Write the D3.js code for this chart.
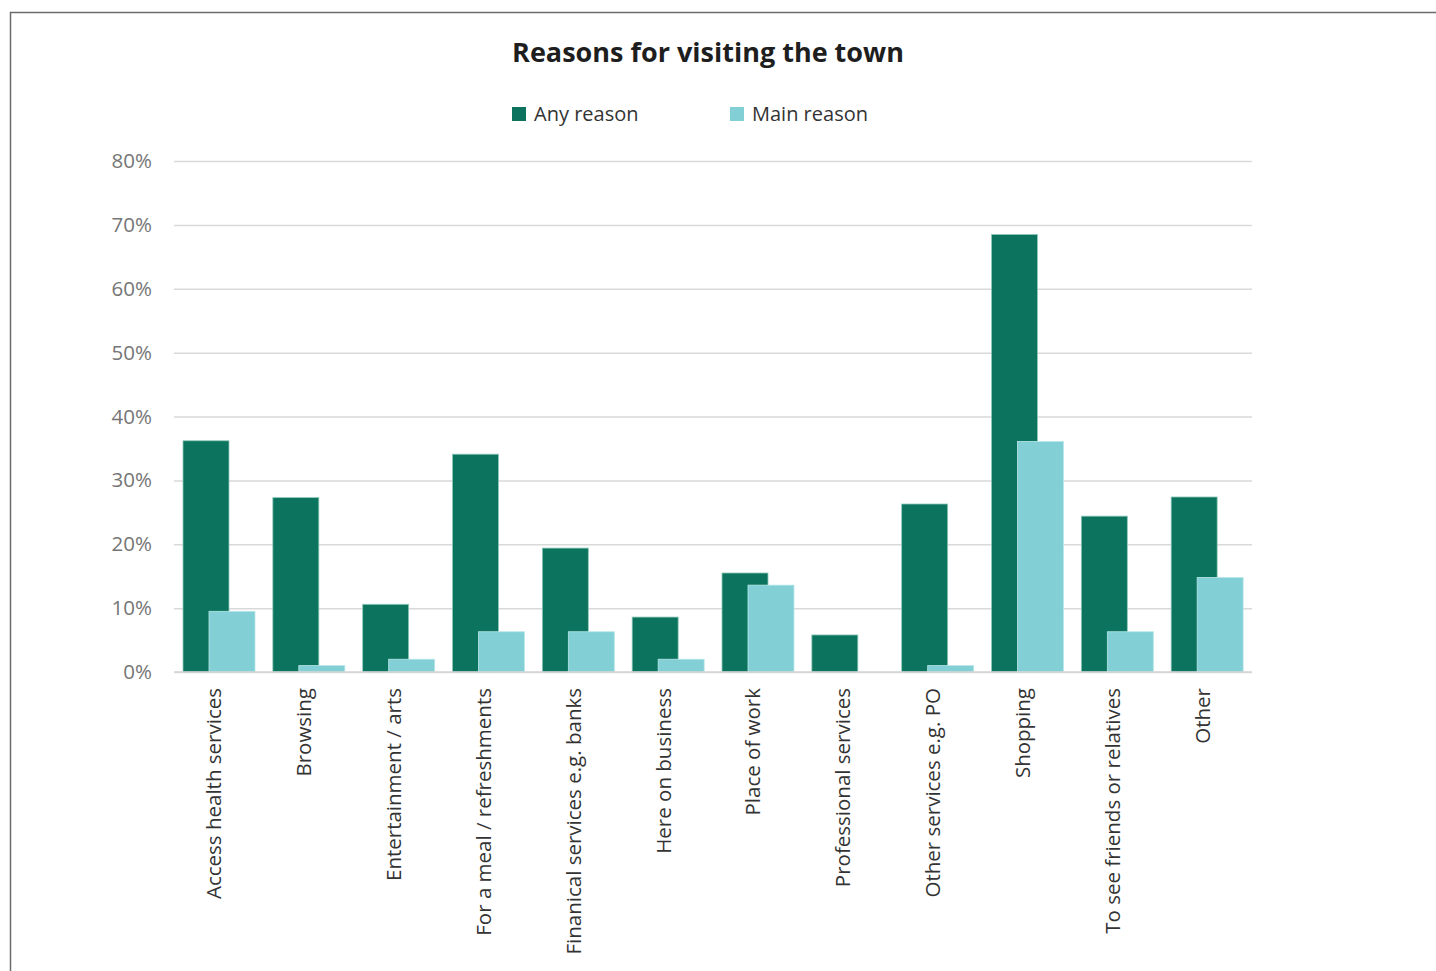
<!DOCTYPE html>
<html>
<head>
<meta charset="utf-8">
<script src="https://cdn.jsdelivr.net/npm/d3@7/dist/d3.min.js"></script>
<style>
  html, body { margin: 0; padding: 0; background: #fff; }
  svg { display: block; }
</style>
</head>
<body>
<svg id="chart" width="1436" height="971"></svg>
<script>
// Survey results: share of respondents by reason for visiting the town
const categories = [
  "Access health services",
  "Browsing",
  "Entertainment / arts",
  "For a meal / refreshments",
  "Finanical services e.g. banks",
  "Here on business",
  "Place of work",
  "Professional services",
  "Other services e.g. PO",
  "Shopping",
  "To see friends or relatives",
  "Other"
];
const anyReason  = [36.2, 27.3, 10.6, 34.1, 19.4, 8.6, 15.5, 5.8, 26.3, 68.5, 24.4, 27.4];
const mainReason = [9.5, 1.0, 2.0, 6.3, 6.3, 2.0, 13.6, 0.0, 1.0, 36.1, 6.3, 14.8];
const yTicks = [0, 10, 20, 30, 40, 50, 60, 70, 80];
const seriesNames = ["Any reason", "Main reason"];
const seriesColors = ["#0c745e", "#82d0d6"];

const svg = d3.select("#chart");
const font = "'Open Sans', 'Noto Sans', sans-serif";

// outer frame
svg.append("path")
  .attr("d", "M10.5,980 V12.5 H1440")
  .attr("fill", "none")
  .attr("stroke", "#6b6b6b")
  .attr("stroke-width", 1.5);

const plot = { left: 174, right: 1252, top: 161, bottom: 672 };

const x = d3.scaleBand()
  .domain(categories)
  .range([plot.left, plot.right])
  .paddingInner(0)
  .paddingOuter(0);

const y = d3.scaleLinear()
  .domain([0, 80])
  .range([plot.bottom, plot.top]);

// gridlines and y labels
const yAxis = d3.axisLeft(y)
  .tickValues(yTicks)
  .tickSize(-(plot.right - plot.left))
  .tickPadding(22)
  .tickFormat(d => d + "%");

const gy = svg.append("g")
  .attr("transform", `translate(${plot.left},0)`)
  .call(yAxis);
gy.select(".domain").remove();
gy.selectAll(".tick line")
  .attr("stroke", "#d9d9d9")
  .attr("stroke-width", 1.5);
gy.selectAll(".tick text")
  .attr("fill", "#767676")
  .attr("font-family", font)
  .attr("font-size", 20.5);

// bars: two overlapping columns per category
const barW = 46;
const innerOffset = 9;
const seriesShift = 26;
const seriesData = [anyReason, mainReason];
const seriesEdges = ["#8fc9bb", "#b9e6e9"];

seriesData.forEach((vals, si) => {
  svg.append("g")
    .selectAll("rect")
    .data(categories.filter((d, i) => vals[i] > 0))
    .join("rect")
    .attr("x", d => x(d) + innerOffset + si * seriesShift)
    .attr("y", d => y(vals[categories.indexOf(d)]))
    .attr("width", barW)
    .attr("height", d => y(0) - y(vals[categories.indexOf(d)]))
    .attr("fill", seriesColors[si])
    .attr("stroke", seriesEdges[si])
    .attr("stroke-width", 0.8);
});

// baseline
svg.append("line")
  .attr("x1", plot.left).attr("x2", plot.right)
  .attr("y1", y(0)).attr("y2", y(0))
  .attr("stroke", "#d4d4d4")
  .attr("stroke-width", 1.5);

// category labels, rotated
const xAxis = d3.axisBottom(x).tickSize(0).tickPadding(0);
const gx = svg.append("g")
  .attr("transform", `translate(0,${plot.bottom})`)
  .call(xAxis);
gx.select(".domain").remove();
gx.selectAll(".tick text")
  .attr("font-family", font)
  .attr("font-size", 20.5)
  .attr("fill", "#333")
  .attr("text-anchor", "end")
  .attr("dy", null)
  .attr("transform", "translate(-3,16) rotate(-90)")
  .attr("x", 0)
  .attr("y", 0)
  .attr("dominant-baseline", "middle");

// title
svg.append("text")
  .attr("x", 708)
  .attr("y", 62)
  .attr("text-anchor", "middle")
  .attr("font-family", font)
  .attr("font-weight", 700)
  .attr("font-size", 27)
  .attr("fill", "#1e1e1e")
  .text("Reasons for visiting the town");

// legend
const legendX = [512, 730];
const lg = svg.append("g");
seriesNames.forEach((name, i) => {
  lg.append("rect")
    .attr("x", legendX[i])
    .attr("y", 107)
    .attr("width", 14)
    .attr("height", 14)
    .attr("fill", seriesColors[i]);
  lg.append("text")
    .attr("x", legendX[i] + 22)
    .attr("y", 121)
    .attr("font-family", font)
    .attr("font-size", 20)
    .attr("fill", "#333")
    .text(name);
});
</script>
</body>
</html>
